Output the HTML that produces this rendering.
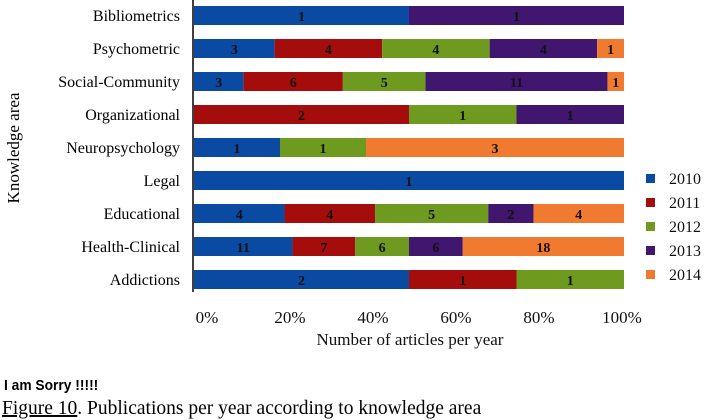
<!DOCTYPE html>
<html><head><meta charset="utf-8">
<style>
body{margin:0;background:#fff;width:722px;height:420px;overflow:hidden;font-family:"Liberation Serif",serif;}
svg{display:block}
</style></head><body>
<svg id="c" width="722" height="420"></svg>
<script>
const categories=["Bibliometrics","Psychometric","Social-Community","Organizational","Neuropsychology","Legal","Educational","Health-Clinical","Addictions"];
const years=["2010","2011","2012","2013","2014"];
const s2010=[1,3,3,0,1,1,4,11,2];
const s2011=[0,4,6,2,0,0,4,7,1];
const s2012=[0,4,5,1,1,0,5,6,1];
const s2013=[1,4,11,1,0,0,2,6,0];
const s2014=[0,1,1,0,3,0,4,18,0];
const tickLabels=["0%","20%","40%","60%","80%","100%"];
const series=[s2010,s2011,s2012,s2013,s2014];
const colors=["#0b4aa2","#a50d0d","#6e9a1f","#40166e","#f07a30"];
const NS="http://www.w3.org/2000/svg";
const svg=document.getElementById('c');
const x0=194,x1=624,rowTop=6,pitch=33,bh=19;
const xs=p=>x0+(x1-x0)*p;
const yb=i=>rowTop+i*pitch;
function mk(t,a,txt){const e=document.createElementNS(NS,t);for(const k in a)e.setAttribute(k,a[k]);if(txt!=null)e.textContent=txt;svg.appendChild(e);return e;}
categories.forEach((c,i)=>{
  const tot=series.reduce((s,a)=>s+a[i],0);
  let acc=0;
  series.forEach((a,j)=>{
    const v=a[i];if(!v)return;
    const xa=xs(acc/tot),xb=xs((acc+v)/tot);
    const r=mk('rect',{x:xa,y:yb(i),width:xb-xa,height:bh,fill:colors[j]});
    
    
    const t=mk('text',{x:(xa+xb)/2,y:yb(i)+15,'text-anchor':'middle','font-size':'14','font-weight':'bold',fill:'#111'},v);
    
    
    acc+=v;
  });
  const l=mk('text',{x:180,y:yb(i)+15,'text-anchor':'end','font-size':'16',fill:'#000'},c);
  
  
});
const ax=mk('line',{x1:193,y1:0,x2:193,y2:292,stroke:'#000','stroke-width':1.5});


tickLabels.forEach((t,i)=>{
  const e=mk('text',{x:207+83*i,y:323,'text-anchor':'middle','font-size':'17',fill:'#111'},t);
  
  
});
const xt=mk('text',{x:410,y:345,'text-anchor':'middle','font-size':'17',fill:'#111'},'Number of articles  per year');


const yt=mk('text',{x:0,y:0,'text-anchor':'middle','font-size':'17',fill:'#000',transform:'translate(19,148) rotate(-90)'},'Knowledge area');


years.forEach((y,j)=>{
  const r=mk('rect',{x:646,y:174+24*j,width:9,height:9,fill:colors[j]});
  
  
  const t=mk('text',{x:669,y:184+24*j,'font-size':'16',fill:'#111'},y);
  
  
});
const s=mk('text',{x:0,y:0,'font-size':'15','font-weight':'bold','font-family':'Liberation Sans Narrow, Liberation Sans, sans-serif',fill:'#000',transform:'translate(4,390) scale(0.92,1)'},'I am Sorry !!!!!');


const cap=mk('text',{x:2,y:414,'font-size':'19.5',fill:'#000'});


const t1=document.createElementNS(NS,'tspan');t1.setAttribute('text-decoration','underline');t1.textContent='Figure 10';cap.appendChild(t1);
const t2=document.createElementNS(NS,'tspan');t2.textContent='. Publications per year according to knowledge area';cap.appendChild(t2);
</script>
</body></html>
